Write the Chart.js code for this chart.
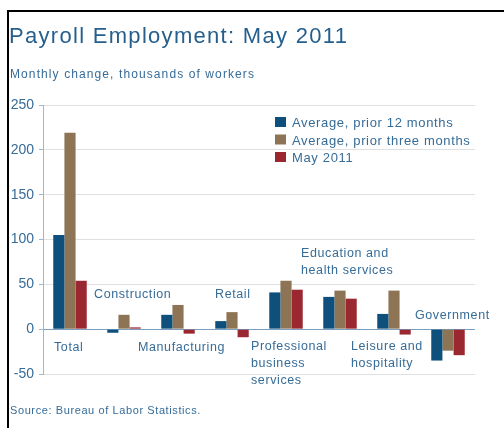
<!DOCTYPE html>
<html>
<head>
<meta charset="utf-8">
<script src="https://cdn.jsdelivr.net/npm/chart.js@4"></script>
<style>
  html, body { margin: 0; padding: 0; background: #fff; }
  #wrap { width: 504px; height: 428px; }
</style>
</head>
<body>
<div id="wrap"><canvas id="payrollChart" width="504" height="428"></canvas></div>
<script>
const categories = ['Total', 'Construction', 'Manufacturing', 'Retail', 'Professional business services',
    'Education and health services', 'Leisure and hospitality', 'Government'];
const avg12Months = [105, -4, 16, 9, 41, 36, 17, -35];
const avg3Months = [219, 16, 27, 19, 54, 43, 43, -24];
const may2011 = [54, 2, -5, -9, 44, 34, -6, -29];
const yTicks = [-50, 0, 50, 100, 150, 200, 250];

const textBlue = '#366c98';
const font = '"Liberation Sans", Arial, sans-serif';

// where each category name sits: offset from group centre (px), value for first line, lines
const labelSpots = [
    { dx: -16, v: -20, lines: ['Total'] },
    { dx: -30, v: 39, lines: ['Construction'] },
    { dx: -40, v: -21, lines: ['Manufacturing'] },
    { dx: -17, v: 39, lines: ['Retail'] },
    { dx: -35, v: -19, lines: ['Professional', 'business', 'services'] },
    { dx: -39, v: 84, lines: ['Education and', 'health services'] },
    { dx: -43, v: -19, lines: ['Leisure and', 'hospitality'] },
    { dx: -33, v: 15, lines: ['Government'] }
];

const decorations = {
    id: 'decorations',
    afterDraw(chart) {
        const ctx = chart.ctx;
        const x = chart.scales.x, y = chart.scales.y;
        ctx.save();

        // frame
        ctx.fillStyle = '#000';
        ctx.fillRect(7, 10, 497, 2);
        ctx.fillRect(7, 10, 2, 418);

        ctx.textBaseline = 'alphabetic';
        ctx.textAlign = 'left';
        ctx.fillStyle = '#255f8e';
        ctx.font = '22px ' + font;
        ctx.letterSpacing = '1.3px';
        ctx.fillText('Payroll Employment: May 2011', 9, 43);

        ctx.fillStyle = textBlue;
        ctx.font = '12px ' + font;
        ctx.letterSpacing = '1.1px';
        ctx.fillText('Monthly change, thousands of workers', 10, 78);

        ctx.font = '11px ' + font;
        ctx.letterSpacing = '0.6px';
        ctx.fillText('Source: Bureau of Labor Statistics.', 10, 414);

        // legend
        ctx.font = '13px ' + font;
        ctx.letterSpacing = '0.65px';
        chart.data.datasets.forEach((ds, i) => {
            const ly = 127 + i * 17.5;
            ctx.fillStyle = ds.backgroundColor;
            ctx.fillRect(275, ly - 10, 11, 10);
            ctx.fillStyle = textBlue;
            ctx.fillText(ds.label, 292, ly);
        });

        // category names
        ctx.font = '12.5px ' + font;
        ctx.letterSpacing = '0.6px';
        ctx.textBaseline = 'middle';
        categories.forEach((c, i) => {
            const s = labelSpots[i];
            const cx = x.getPixelForValue(i) + s.dx;
            const cy = y.getPixelForValue(s.v);
            s.lines.forEach((t, j) => ctx.fillText(t, cx, cy + j * 17));
        });
        ctx.restore();
    }
};

new Chart(document.getElementById('payrollChart'), {
    type: 'bar',
    data: {
        labels: categories,
        datasets: [
            { label: 'Average, prior 12 months', data: avg12Months, backgroundColor: '#0e4f7b' },
            { label: 'Average, prior three months', data: avg3Months, backgroundColor: '#8c7455' },
            { label: 'May 2011', data: may2011, backgroundColor: '#9b2830' }
        ]
    },
    options: {
        responsive: false,
        animation: false,
        devicePixelRatio: 1,
        layout: { padding: { left: 7, right: 29, top: 105, bottom: 54 } },
        datasets: { bar: { categoryPercentage: 0.62, barPercentage: 1.0 } },
        plugins: {
            legend: { display: false },
            title: { display: false },
            tooltip: { enabled: false }
        },
        scales: {
            x: {
                grid: { display: false },
                border: { display: false },
                ticks: { display: false },
                afterFit: s => { s.height = 0; }
            },
            y: {
                min: -50,
                max: 250,
                afterBuildTicks: s => { s.ticks = yTicks.map(v => ({ value: v })); },
                afterFit: s => { s.width = 36; },
                ticks: { color: textBlue, font: { family: font, size: 14 }, padding: 5 },
                grid: {
                    color: c => c.tick && c.tick.value === 0 ? '#7a9fbf' : '#e0e0e0',
                    tickColor: '#9db8cf',
                    tickLength: 4,
                    drawOnChartArea: true
                },
                border: { color: '#9db8cf' }
            }
        }
    },
    plugins: [decorations]
});
</script>
</body>
</html>
